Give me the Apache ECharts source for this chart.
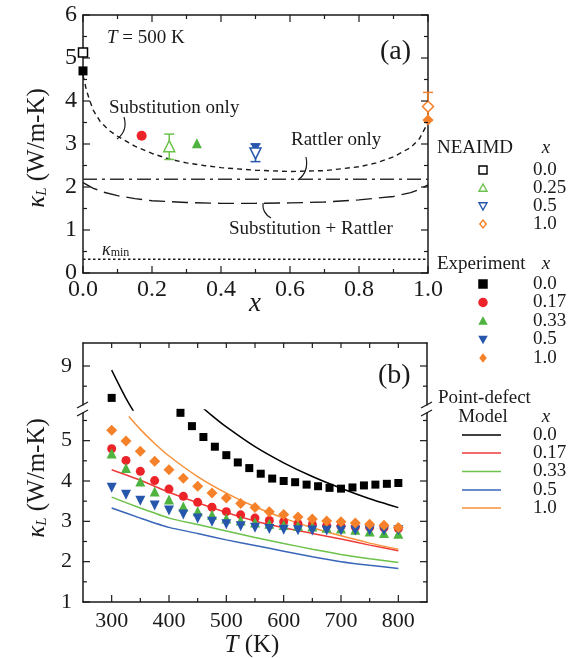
<!DOCTYPE html>
<html><head><meta charset="utf-8">
<script src="https://cdn.jsdelivr.net/npm/echarts@6/dist/echarts.min.js"></script>
<style>html,body{margin:0;padding:0;background:#fff}#c{width:575px;height:658px}</style>
</head><body><div id="c"></div>
<script>
// ---------------- Panel (a) data : kappa_L vs x at T = 500 K ----------------
const subOnlyX = [0, 0.01, 0.02, 0.03, 0.05, 0.075, 0.1, 0.15, 0.2, 0.25, 0.3, 0.35, 0.4, 0.5, 0.6, 0.7, 0.8, 0.85, 0.9, 0.95, 0.975, 1.0];
const subOnlyY = [4.6, 4.25, 4.0, 3.78, 3.52, 3.32, 3.18, 2.95, 2.78, 2.65, 2.56, 2.5, 2.45, 2.39, 2.36, 2.38, 2.47, 2.56, 2.7, 2.92, 3.12, 3.5];
const rattlerX = [0, 1.0];
const rattlerY = [2.18, 2.18];
const subRatX = [0, 0.03, 0.06, 0.1, 0.15, 0.2, 0.3, 0.4, 0.5, 0.6, 0.7, 0.8, 0.9, 0.95, 0.98, 1.0];
const subRatY = [2.1, 1.97, 1.88, 1.8, 1.73, 1.68, 1.64, 1.62, 1.62, 1.63, 1.65, 1.7, 1.78, 1.87, 1.96, 2.05];
const kMinX = [0, 1.0];
const kMinY = [0.32, 0.32];
const neaimdX = [0, 0.25, 0.5, 1.0];
const neaimdY = [5.13, 2.95, 2.78, 3.87];
const neaimdLo = [null, 2.64, 2.59, 3.55];
const neaimdHi = [null, 3.23, 3.0, 4.2];
const expAX = [0, 0.17, 0.33, 0.5, 1.0];
const expAY = [4.70, 3.19, 3.02, 2.90, 3.56];

// ---------------- Panel (b) data : kappa_L vs T ----------------
const modelT = [300, 350, 400, 450, 500, 550, 600, 650, 700, 750, 800];
const modelBlackT = [300, 325, 350, 400, 450, 475, 500, 550, 600, 650, 700, 750, 800];
const modelBlack = [8.9, 8.2, 7.62, 6.67, 5.93, 5.62, 5.34, 4.85, 4.45, 4.11, 3.82, 3.56, 3.34];
const modelOrangeT = [330, 350, 375, 400, 450, 500, 550, 600, 650, 700, 750, 800];
const modelOrange = [5.6, 5.28, 4.93, 4.62, 4.11, 3.70, 3.36, 3.08, 2.84, 2.64, 2.46, 2.31];
const modelRed = [4.28, 4.02, 3.72, 3.46, 3.22, 3.01, 2.84, 2.70, 2.56, 2.41, 2.27];
const modelGreen = [3.60, 3.33, 3.08, 2.92, 2.76, 2.60, 2.45, 2.31, 2.18, 2.07, 1.98];
const modelBlue = [3.33, 3.08, 2.85, 2.70, 2.54, 2.40, 2.26, 2.12, 2.00, 1.91, 1.83];

const expBlackT = [300, 420, 440, 460, 480, 500, 520, 540, 560, 580, 600, 620, 640, 660, 680, 700, 720, 740, 760, 780, 800];
const expBlack = [8.21, 5.69, 5.36, 5.09, 4.85, 4.64, 4.46, 4.32, 4.18, 4.06, 4.0, 3.97, 3.91, 3.87, 3.83, 3.81, 3.84, 3.89, 3.91, 3.93, 3.95];
const expT = [300, 325, 350, 375, 400, 425, 450, 475, 500, 525, 550, 575, 600, 625, 650, 675, 700, 725, 750, 775, 800];
const expRed = [4.80, 4.51, 4.24, 4.01, 3.80, 3.62, 3.47, 3.35, 3.24, 3.16, 3.08, 3.02, 2.99, 2.94, 2.92, 2.89, 2.88, 2.86, 2.85, 2.84, 2.82];
const expGreen = [4.68, 4.32, 3.99, 3.74, 3.54, 3.37, 3.25, 3.16, 3.07, 3.02, 2.97, 2.94, 2.91, 2.89, 2.87, 2.84, 2.82, 2.79, 2.75, 2.71, 2.69];
const expBlue = [3.83, 3.66, 3.51, 3.39, 3.27, 3.17, 3.07, 2.99, 2.93, 2.88, 2.84, 2.81, 2.79, 2.78, 2.77, 2.77, 2.77, 2.77, 2.77, 2.77, 2.78];
const expOrange = [5.26, 4.99, 4.74, 4.49, 4.28, 4.07, 3.87, 3.70, 3.58, 3.44, 3.34, 3.24, 3.17, 3.11, 3.06, 3.01, 2.99, 2.96, 2.93, 2.90, 2.85];

// ---------------- tick / legend labels ----------------
const xTicksAMajor = [0, 0.2, 0.4, 0.6, 0.8, 1.0];
const xTicksAMinor = [0.1, 0.3, 0.5, 0.7, 0.9];
const yTicksAMajor = [0, 1, 2, 3, 4, 5, 6];
const yTicksAMinor = [0.5, 1.5, 2.5, 3.5, 4.5, 5.5];
const tTicksTop = [300, 350, 400, 450, 500, 550, 600, 650, 700, 750, 800];
const tTicksMajor = [300, 400, 500, 600, 700, 800];
const tTicksMinor = [350, 450, 550, 650, 750];
const kTicksLowMajor = [1, 2, 3, 4, 5];
const kTicksLowMinor = [1.5, 2.5, 3.5, 4.5, 5.5];
const kTicksHighMajor = [9];
const kTicksHighMinor = [8.5];
const neaimdLabels = ['0.0', '0.25', '0.5', '1.0'];
const expLabels = ['0.0', '0.17', '0.33', '0.5', '1.0'];
const modelLabels = ['0.0', '0.17', '0.33', '0.5', '1.0'];

// ---------------- styles ----------------
const FONT = 'Liberation Serif';
const INK = '#1a1a1a';
const cBlack = '#000000', cRed = '#ec2329', cGreen = '#4fb33f', cBlue = '#2757ad', cOrange = '#f5822a';
const cRedL = '#ee3b3b', cGreenL = '#6cc24a', cBlueL = '#3a66b8', cOrangeL = '#f7923a';
const neaimdColors = [cBlack, cGreenL, cBlue, cOrange];
const neaimdSymbols = ['rect', 'triangle', 'triangle', 'diamond'];
const neaimdRot = [0, 0, 180, 0];
const expColors = [cBlack, cRed, cGreen, cBlue, cOrange];
const expSymbols = ['rect', 'circle', 'triangle', 'triangle', 'diamond'];
const expRot = [0, 0, 0, 180, 0];
const modelColors = [cBlack, cRedL, cGreenL, cBlueL, cOrangeL];

const zip = (a, b) => a.map((v, i) => [v, b[i]]);
const line = () => ({ show: true, onZero: false, lineStyle: { color: INK, width: 1.5 } });
const base = () => ({ type: 'value', splitLine: { show: false }, minorSplitLine: { show: false },
  axisTick: { show: false }, minorTick: { show: false }, axisLine: line() });

// ---------------- axes (lines + labels; ticks drawn by tick series) ----------------
const HI_MIN = 7.91, HI_MAX = 9.57, LO_MIN = 1, LO_MAX = 5.76, T_MIN = 250, T_MAX = 850;
const xAxes = [
  Object.assign(base(), { gridIndex: 0, position: 'bottom', min: 0, max: 1, interval: 0.2,
    axisLabel: { formatter: v => v.toFixed(1), fontFamily: FONT, fontSize: 24, color: INK, margin: 5 } }),
  Object.assign(base(), { gridIndex: 0, position: 'top', min: 0, max: 1, interval: 0.2, axisLabel: { show: false } }),
  Object.assign(base(), { gridIndex: 1, position: 'top', min: T_MIN, max: T_MAX, interval: 50, axisLabel: { show: false } }),
  Object.assign(base(), { gridIndex: 2, position: 'bottom', min: T_MIN, max: T_MAX,
    axisLabel: { customValues: tTicksMajor, fontFamily: FONT, fontSize: 22, color: INK, margin: 8 } })
];
const yAxes = [
  Object.assign(base(), { gridIndex: 0, position: 'left', min: 0, max: 6, interval: 1,
    axisLabel: { fontFamily: FONT, fontSize: 24, color: INK, margin: 6 } }),
  Object.assign(base(), { gridIndex: 0, position: 'right', min: 0, max: 6, interval: 1, axisLabel: { show: false } }),
  Object.assign(base(), { gridIndex: 1, position: 'left', min: HI_MIN, max: HI_MAX,
    axisLabel: { customValues: kTicksHighMajor, fontFamily: FONT, fontSize: 22, color: INK, margin: 11 } }),
  Object.assign(base(), { gridIndex: 1, position: 'right', min: HI_MIN, max: HI_MAX, axisLabel: { show: false } }),
  Object.assign(base(), { gridIndex: 2, position: 'left', min: LO_MIN, max: LO_MAX,
    axisLabel: { customValues: kTicksLowMajor, fontFamily: FONT, fontSize: 22, color: INK, margin: 11 } }),
  Object.assign(base(), { gridIndex: 2, position: 'right', min: LO_MIN, max: LO_MAX, axisLabel: { show: false } })
];

// ---------------- tick series (inward ticks, placed through the axes' own scales) ----------------
// item: [value, reference value on the other axis, dim (0 = x, 1 = y), length, sides (1 = bottom/left, 2 = top/right, 3 = both)]
function tickItems(vals, ref, dim, len, sides) { return vals.map(v => [v, ref, dim, len, sides]); }
function tickSeries(xi, yi, items) {
  return { type: 'custom', xAxisIndex: xi, yAxisIndex: yi, z: 10, silent: true, clip: false,
    data: items, encode: { x: 0, y: 1 },
    renderItem: (params, api) => {
      const cs = params.coordSys;
      const v = api.value(0), ref = api.value(1), dim = api.value(2), len = api.value(3), sides = api.value(4);
      const st = { stroke: INK, lineWidth: 1.2 };
      const kids = [];
      if (dim === 0) {
        const px = api.coord([v, ref])[0];
        if (sides & 1) kids.push({ type: 'line', shape: { x1: px, y1: cs.y + cs.height, x2: px, y2: cs.y + cs.height - len }, style: st });
        if (sides & 2) kids.push({ type: 'line', shape: { x1: px, y1: cs.y, x2: px, y2: cs.y + len }, style: st });
      } else {
        const py = api.coord([ref, v])[1];
        if (sides & 1) kids.push({ type: 'line', shape: { x1: cs.x, y1: py, x2: cs.x + len, y2: py }, style: st });
        if (sides & 2) kids.push({ type: 'line', shape: { x1: cs.x + cs.width, y1: py, x2: cs.x + cs.width - len, y2: py }, style: st });
      }
      return { type: 'group', children: kids };
    } };
}

// ---------------- series ----------------
const series = [];
series.push({ type: 'line', xAxisIndex: 0, yAxisIndex: 0, data: zip(subOnlyX, subOnlyY), symbol: 'none',
  lineStyle: { color: INK, width: 1.4, type: [5, 4] }, z: 2 });
series.push({ type: 'line', xAxisIndex: 0, yAxisIndex: 0, data: zip(rattlerX, rattlerY), symbol: 'none',
  lineStyle: { color: '#333', width: 1.5, type: [14, 5, 3, 5] }, z: 2 });
series.push({ type: 'line', xAxisIndex: 0, yAxisIndex: 0, data: zip(subRatX, subRatY), symbol: 'none',
  lineStyle: { color: INK, width: 1.4, type: [16, 7] }, z: 2 });
series.push({ type: 'line', xAxisIndex: 0, yAxisIndex: 0, data: zip(kMinX, kMinY), symbol: 'none',
  lineStyle: { color: INK, width: 1.3, type: [2.5, 2.5] }, z: 2 });
series.push({ type: 'custom', xAxisIndex: 0, yAxisIndex: 0, z: 3,
  data: neaimdX.map((x, i) => neaimdLo[i] == null ? null : [x, neaimdLo[i], neaimdHi[i], i]).filter(Boolean),
  encode: { x: 0, y: [1, 2] },
  renderItem: (params, api) => {
    const x = api.value(0), lo = api.value(1), hi = api.value(2), idx = api.value(3);
    const a = api.coord([x, lo]), b = api.coord([x, hi]); const w = 5;
    const st = { stroke: neaimdColors[idx], lineWidth: 1.5 };
    return { type: 'group', children: [
      { type: 'line', shape: { x1: a[0], y1: a[1], x2: b[0], y2: b[1] }, style: st },
      { type: 'line', shape: { x1: a[0] - w, y1: a[1], x2: a[0] + w, y2: a[1] }, style: st },
      { type: 'line', shape: { x1: b[0] - w, y1: b[1], x2: b[0] + w, y2: b[1] }, style: st }
    ] };
  } });
series.push({ type: 'scatter', xAxisIndex: 0, yAxisIndex: 0, clip: false, z: 4,
  data: expAX.map((x, i) => ({ value: [x, expAY[i]], symbol: expSymbols[i], symbolRotate: expRot[i],
    symbolSize: expSymbols[i] === 'rect' ? 9 : (expSymbols[i] === 'diamond' ? 11 : 10),
    itemStyle: { color: expColors[i], opacity: 1 } })) });
series.push({ type: 'scatter', xAxisIndex: 0, yAxisIndex: 0, clip: false, z: 5,
  data: neaimdX.map((x, i) => ({ value: [x, neaimdY[i]], symbol: neaimdSymbols[i], symbolRotate: neaimdRot[i],
    symbolSize: neaimdSymbols[i] === 'rect' ? 9 : 11,
    itemStyle: { color: '#fff', borderColor: neaimdColors[i], borderWidth: 1.5, opacity: 1 } })) });

const modelSets = [
  [modelBlackT, modelBlack], [modelT, modelRed], [modelT, modelGreen], [modelT, modelBlue], [modelOrangeT, modelOrange]
];
modelSets.forEach((m, i) => {
  series.push({ type: 'line', xAxisIndex: 3, yAxisIndex: 4, data: zip(m[0], m[1]), symbol: 'none', clip: true,
    smooth: 0.2, lineStyle: { color: modelColors[i], width: 1.5 }, z: 2 });
});
series.push({ type: 'line', xAxisIndex: 2, yAxisIndex: 2, data: zip(modelBlackT, modelBlack), symbol: 'none', clip: true,
  smooth: 0.2, lineStyle: { color: modelColors[0], width: 1.5 }, z: 2 });

const expSets = [[expBlackT, expBlack], [expT, expRed], [expT, expGreen], [expT, expBlue], [expT, expOrange]];
const expSizeB = [8, 9, 10, 10, 11];
expSets.forEach((e, i) => {
  series.push({ type: 'scatter', xAxisIndex: 3, yAxisIndex: 4, clip: true, z: 4 + i,
    data: zip(e[0], e[1]), symbol: expSymbols[i], symbolRotate: expRot[i], symbolSize: expSizeB[i],
    itemStyle: { color: expColors[i], opacity: 1 } });
});
series.push({ type: 'scatter', xAxisIndex: 2, yAxisIndex: 2, clip: true, z: 4,
  data: zip(expBlackT, expBlack), symbol: 'rect', symbolSize: 8, itemStyle: { color: expColors[0], opacity: 1 } });

// ticks
series.push(tickSeries(0, 0, [].concat(
  tickItems(xTicksAMajor, 0, 0, 7, 3), tickItems(xTicksAMinor, 0, 0, 4, 3),
  tickItems(yTicksAMajor, 0, 1, 7, 3), tickItems(yTicksAMinor, 0, 1, 4, 3))));
series.push(tickSeries(2, 2, [].concat(
  tickItems(tTicksTop, HI_MIN, 0, 5, 2),
  tickItems(kTicksHighMajor, T_MIN, 1, 7, 3), tickItems(kTicksHighMinor, T_MIN, 1, 4, 3))));
series.push(tickSeries(3, 4, [].concat(
  tickItems(tTicksMajor, LO_MIN, 0, 7, 1), tickItems(tTicksMinor, LO_MIN, 0, 4, 1),
  tickItems(kTicksLowMajor, T_MIN, 1, 7, 3), tickItems(kTicksLowMinor, T_MIN, 1, 4, 3))));

// ---------------- graphics ----------------
const G = [];
const txt = (x, y, text, opt) => Object.assign({ type: 'text', x: x, y: y, z: 50,
  style: Object.assign({ text: text, fontFamily: FONT, fontSize: 19, fill: INK, align: 'left', verticalAlign: 'middle' }, opt || {}) });
const richK = (fs) => ({ k: { fontFamily: FONT, fontStyle: 'italic', fontSize: fs, fill: INK, verticalAlign: 'middle' },
  s: { fontFamily: FONT, fontStyle: 'italic', fontSize: Math.round(fs * 0.6), fill: INK, verticalAlign: 'bottom' },
  n: { fontFamily: FONT, fontSize: fs, fill: INK, verticalAlign: 'middle' } });

G.push(Object.assign(txt(37, 148, '{k|κ}{s|L}{n| (W/m-K)}', { rich: richK(25), align: 'center' }), { rotation: Math.PI / 2 }));
G.push(Object.assign(txt(37, 478, '{k|κ}{s|L}{n| (W/m-K)}', { rich: richK(25), align: 'center' }), { rotation: Math.PI / 2 }));
G.push(txt(255, 304, 'x', { fontStyle: 'italic', fontSize: 27, align: 'center' }));
G.push(txt(252, 645, '{k|T}{n| (K)}', { rich: richK(25), align: 'center' }));
G.push(txt(380, 52, '(a)', { fontSize: 28 }));
G.push(txt(378, 376, '(b)', { fontSize: 28 }));
G.push(txt(107, 38, '{k|T}{n| = 500 K}', { rich: richK(19) }));
G.push(txt(109, 108, 'Substitution only'));
G.push(txt(291, 140, 'Rattler only'));
G.push(txt(229, 229, 'Substitution + Rattler'));
G.push(txt(102, 250, '{k|κ}{s|min}', { rich: { k: { fontFamily: FONT, fontStyle: 'italic', fontSize: 18, fill: INK }, s: { fontFamily: FONT, fontSize: 12, fill: INK, verticalAlign: 'bottom' } } }));
const leader = (x1, y1, cx, cy, x2, y2) => ({ type: 'bezierCurve', z: 50,
  shape: { x1: x1, y1: y1, cpx1: cx, cpy1: cy, x2: x2, y2: y2 }, style: { stroke: INK, lineWidth: 1.2, fill: null } });
G.push(leader(117, 139, 128, 131, 124, 117));
G.push(leader(298, 180, 309, 172, 306, 157));
G.push(leader(263, 203, 262, 213, 271, 218));

[83, 427].forEach(x => {
  G.push({ type: 'rect', z: 60, shape: { x: x - 4, y: 405.5, width: 8, height: 7 }, style: { fill: '#fff' } });
  G.push({ type: 'line', z: 61, shape: { x1: x - 6, y1: 408, x2: x + 5, y2: 402 }, style: { stroke: INK, lineWidth: 1.3 } });
  G.push({ type: 'line', z: 61, shape: { x1: x - 6, y1: 416, x2: x + 5, y2: 410 }, style: { stroke: INK, lineWidth: 1.3 } });
});

function sym(kind, cx, cy, size, fill, stroke, rot) {
  const h = size / 2;
  let el;
  if (kind === 'rect') el = { type: 'rect', shape: { x: cx - h, y: cy - h, width: size, height: size } };
  else if (kind === 'circle') el = { type: 'circle', shape: { cx: cx, cy: cy, r: h } };
  else if (kind === 'diamond') el = { type: 'polygon', shape: { points: [[cx, cy - h], [cx + h * 0.8, cy], [cx, cy + h], [cx - h * 0.8, cy]] } };
  else {
    const s = rot ? -1 : 1;
    el = { type: 'polygon', shape: { points: [[cx, cy - s * h], [cx + h, cy + s * h * 0.8], [cx - h, cy + s * h * 0.8]] } };
  }
  el.z = 50;
  el.style = stroke ? { fill: '#fff', stroke: stroke, lineWidth: 1.4 } : { fill: fill };
  return el;
}
const LX_SYM = 483, LX_LAB = 533, LX_X = 546;
G.push(txt(437, 148, 'NEAIMD'));
G.push(txt(LX_X, 148, 'x', { fontStyle: 'italic', align: 'center' }));
const neaimdRows = [170, 188, 206, 224];
neaimdLabels.forEach((lab, i) => {
  G.push(sym(neaimdSymbols[i], LX_SYM, neaimdRows[i], 8, null, neaimdColors[i], neaimdRot[i]));
  G.push(txt(LX_LAB, neaimdRows[i], lab));
});
G.push(txt(437, 264, 'Experiment'));
G.push(txt(LX_X, 264, 'x', { fontStyle: 'italic', align: 'center' }));
const expRows = [284, 302.5, 321, 339.5, 358];
expLabels.forEach((lab, i) => {
  G.push(sym(expSymbols[i], LX_SYM, expRows[i], 9.5, expColors[i], null, expRot[i]));
  G.push(txt(LX_LAB, expRows[i], lab));
});
G.push(txt(438, 398, 'Point-defect'));
G.push(txt(483, 417, 'Model', { align: 'center' }));
G.push(txt(LX_X, 417, 'x', { fontStyle: 'italic', align: 'center' }));
const modelRows = [435, 453, 471.5, 490, 508];
modelLabels.forEach((lab, i) => {
  G.push({ type: 'line', z: 50, shape: { x1: 462, y1: modelRows[i], x2: 501, y2: modelRows[i] }, style: { stroke: modelColors[i], lineWidth: 1.6 } });
  G.push(txt(LX_LAB, modelRows[i], lab));
});

const chart = echarts.init(document.getElementById('c'), null, { renderer: 'canvas' });
chart.setOption({
  backgroundColor: '#fff',
  animation: false,
  grid: [
    { left: 83, top: 15, width: 345, height: 258 },
    { left: 83, top: 343, width: 344, height: 67 },
    { left: 83, top: 410, width: 344, height: 192 }
  ],
  xAxis: xAxes,
  yAxis: yAxes,
  series: series,
  graphic: { elements: G }
});
</script></body></html>
